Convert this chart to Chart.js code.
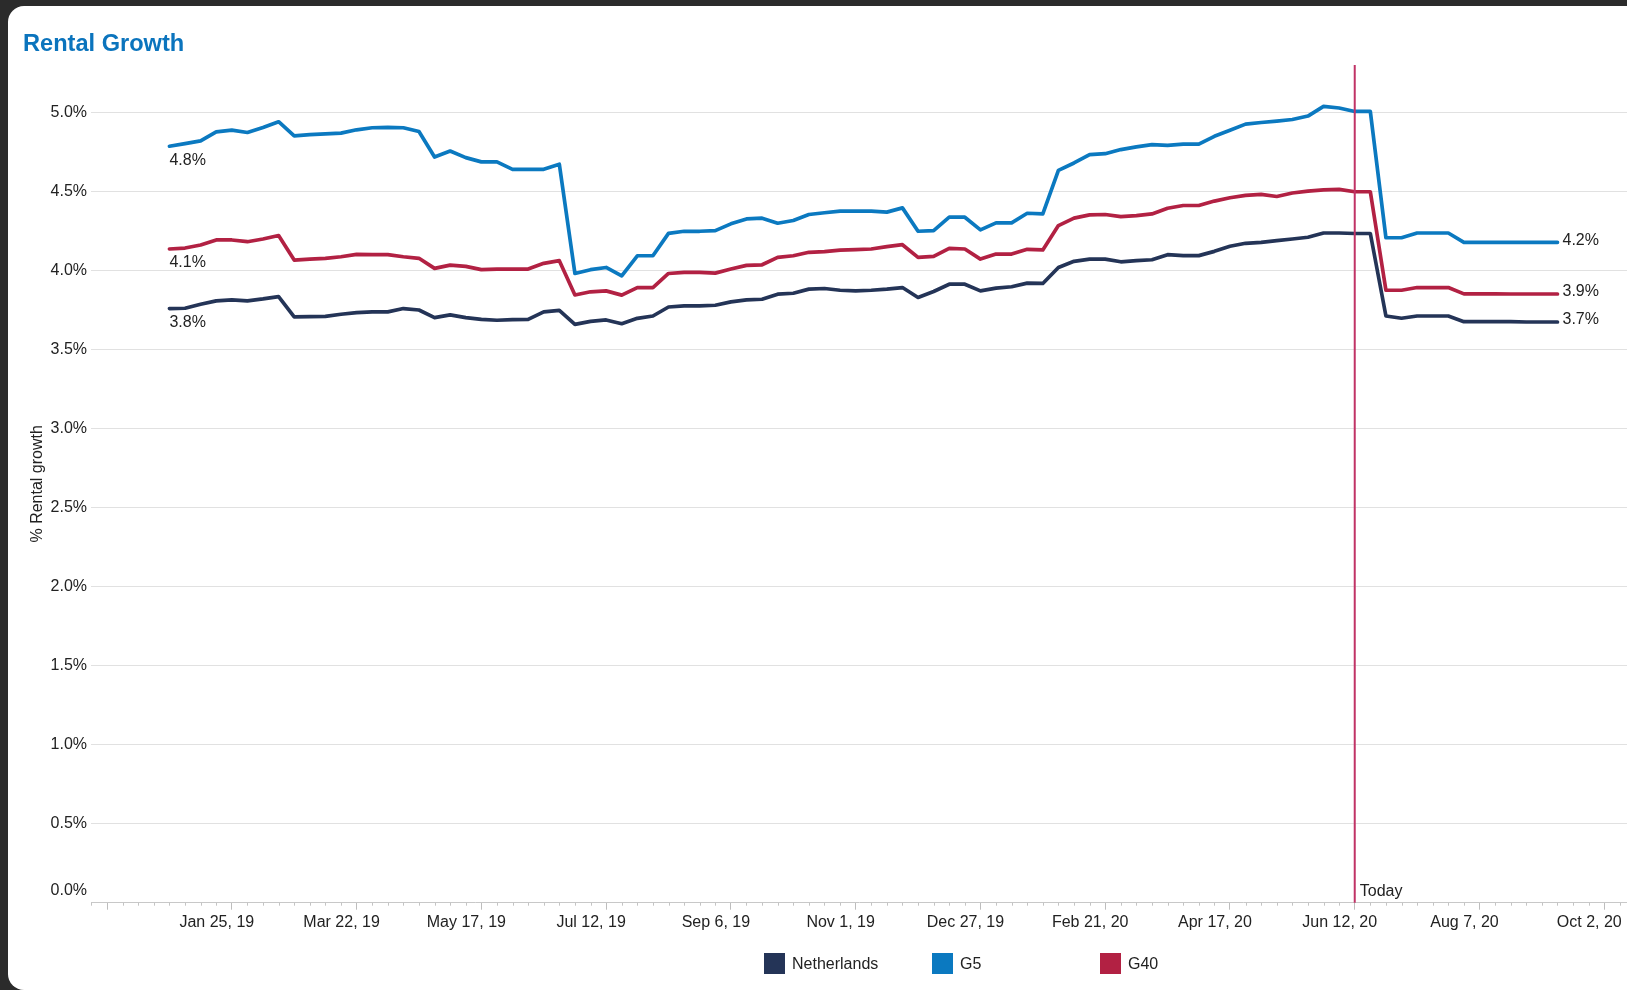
<!DOCTYPE html>
<html>
<head>
<meta charset="utf-8">
<title>Rental Growth</title>
<script src="https://cdn.jsdelivr.net/npm/chart.js@4.4.1/dist/chart.umd.min.js"></script>
<style>
    html, body { margin: 0; padding: 0; }
    body {
        width: 1627px; height: 990px; overflow: hidden;
        background: #2b2b2b;
        font-family: "Liberation Sans", Arial, sans-serif;
    }
    .card {
        position: absolute; left: 8px; top: 6px;
        width: 1619px; height: 984px;
        background: #fff;
        border-radius: 16px 0 0 16px;
        overflow: hidden;
    }
    .card h2 {
        position: absolute; left: 15px; top: 26px; margin: 0;
        font-size: 23.6px; line-height: 23px; font-weight: bold;
        color: #0b74bd;
    }
    .chart-box { position: absolute; left: 0; top: 0; width: 1619px; height: 984px; }
    .legend { position: absolute; left: 756px; top: 947px; display: flex; }
    .legend-item { width: 168px; height: 21px; display: flex; align-items: center; font-size: 16px; color: #222; }
    .legend-item .box { width: 21px; height: 21px; margin-right: 7px; }
</style>
</head>
<body>
<div class="card">
    <div class="chart-box"><canvas id="chartRental"></canvas></div>
    <h2>Rental Growth</h2>
    <div class="legend" id="legendRental"></div>
</div>

<script>
// Weekly readings (Fridays), day 0 = Dec 28, 2018
const weekDays = Array.from({ length: 90 }, (_, i) => i * 7);

const netherlands = [
    3.759, 3.761, 3.786, 3.808, 3.814, 3.808, 3.820, 3.835, 3.706, 3.708,
    3.710, 3.723, 3.733, 3.738, 3.738, 3.759, 3.750, 3.702, 3.719, 3.702,
    3.691, 3.685, 3.689, 3.691, 3.738, 3.748, 3.659, 3.678, 3.687, 3.663,
    3.697, 3.712, 3.769, 3.776, 3.776, 3.780, 3.801, 3.814, 3.818, 3.850,
    3.856, 3.882, 3.886, 3.875, 3.871, 3.875, 3.882, 3.892, 3.829, 3.867,
    3.913, 3.913, 3.871, 3.888, 3.897, 3.920, 3.918, 4.019, 4.058, 4.072,
    4.072, 4.055, 4.062, 4.068, 4.100, 4.094, 4.094, 4.121, 4.153, 4.172,
    4.178, 4.189, 4.199, 4.210, 4.237, 4.237, 4.234, 4.234, 3.712, 3.698,
    3.712, 3.712, 3.712, 3.676, 3.676, 3.676, 3.676, 3.674, 3.674, 3.674
];

const g5 = [
    4.786, 4.803, 4.820, 4.877, 4.888, 4.873, 4.905, 4.941, 4.852, 4.860,
    4.864, 4.869, 4.890, 4.903, 4.905, 4.903, 4.879, 4.718, 4.756, 4.714,
    4.687, 4.687, 4.640, 4.640, 4.640, 4.672, 3.981, 4.005, 4.019, 3.966,
    4.093, 4.093, 4.235, 4.248, 4.248, 4.252, 4.295, 4.326, 4.331, 4.299,
    4.316, 4.354, 4.365, 4.375, 4.375, 4.375, 4.369, 4.396, 4.248, 4.252,
    4.337, 4.337, 4.257, 4.301, 4.301, 4.362, 4.358, 4.633, 4.680, 4.733,
    4.739, 4.765, 4.782, 4.796, 4.792, 4.799, 4.799, 4.849, 4.887, 4.926,
    4.936, 4.945, 4.955, 4.977, 5.038, 5.028, 5.006, 5.006, 4.207, 4.207,
    4.237, 4.237, 4.237, 4.178, 4.178, 4.178, 4.178, 4.178, 4.178, 4.178
];

const g40 = [
    4.136, 4.142, 4.161, 4.193, 4.193, 4.182, 4.199, 4.221, 4.066, 4.072,
    4.077, 4.087, 4.102, 4.100, 4.100, 4.087, 4.077, 4.013, 4.034, 4.026,
    4.005, 4.009, 4.009, 4.009, 4.045, 4.062, 3.845, 3.865, 3.871, 3.844,
    3.892, 3.892, 3.981, 3.988, 3.988, 3.983, 4.009, 4.032, 4.036, 4.083,
    4.093, 4.115, 4.119, 4.129, 4.132, 4.136, 4.151, 4.163, 4.083, 4.089,
    4.140, 4.136, 4.072, 4.104, 4.104, 4.134, 4.130, 4.284, 4.331, 4.352,
    4.354, 4.341, 4.347, 4.358, 4.394, 4.411, 4.411, 4.439, 4.460, 4.475,
    4.481, 4.468, 4.490, 4.502, 4.510, 4.513, 4.498, 4.498, 3.875, 3.875,
    3.892, 3.892, 3.892, 3.852, 3.852, 3.852, 3.851, 3.851, 3.851, 3.851
];

const seriesNames = ['Netherlands', 'G5', 'G40'];
const seriesColors = ['#243457', '#0b79c0', '#b22143'];

// Major ticks every 8 weeks; the first one carries no label
const tickDays = [-28, 28, 84, 140, 196, 252, 308, 364, 420, 476, 532, 588, 644];
const tickLabels = ['', 'Jan 25, 19', 'Mar 22, 19', 'May 17, 19', 'Jul 12, 19', 'Sep 6, 19',
    'Nov 1, 19', 'Dec 27, 19', 'Feb 21, 20', 'Apr 17, 20', 'Jun 12, 20', 'Aug 7, 20', 'Oct 2, 20'];
const yTicks = [0, 0.5, 1, 1.5, 2, 2.5, 3, 3.5, 4, 4.5, 5];

const todayDay = 532;
const FONT = '"Liberation Sans", Arial, sans-serif';
const TEXT = '#222';

const fmtPct = v => v.toFixed(1) + '%';

// Today marker + first/last value labels
const annotacoes = {
    id: 'annotacoes',
    afterDatasetsDraw(chart) {
        const { ctx, chartArea, scales: { x } } = chart;
        const tx = x.getPixelForValue(todayDay);

        ctx.save();
        ctx.strokeStyle = '#c03366';
        ctx.lineWidth = 2;
        ctx.beginPath();
        ctx.moveTo(tx, chartArea.top);
        ctx.lineTo(tx, chartArea.bottom);
        ctx.stroke();

        ctx.font = '16px ' + FONT;
        ctx.fillStyle = TEXT;
        ctx.textAlign = 'left';
        ctx.textBaseline = 'alphabetic';
        ctx.fillText('Today', tx + 5, chartArea.bottom - 6.5);

        chart.data.datasets.forEach((ds, i) => {
            const pts = chart.getDatasetMeta(i).data;
            const first = pts[0];
            const last = pts[pts.length - 1];
            ctx.textBaseline = 'top';
            ctx.fillText(fmtPct(ds.data[0].y), first.x, first.y + 6);
            ctx.textBaseline = 'middle';
            ctx.fillText(fmtPct(ds.data[ds.data.length - 1].y), last.x + 5, last.y - 2);
        });
        ctx.restore();
    }
};

// Small weekly ticks under the dashed axis line, and the 0% label lifted off the axis
const axisExtras = {
    id: 'axisExtras',
    afterDraw(chart) {
        const { ctx, chartArea, scales: { x, y } } = chart;
        ctx.save();
        ctx.strokeStyle = '#c4c4c4';
        ctx.lineWidth = 1;
        ctx.beginPath();
        for (let d = -35; d <= x.max; d += 7) {
            if (tickDays.includes(d)) continue;
            const px = Math.round(x.getPixelForValue(d)) + 0.5;
            ctx.moveTo(px, chartArea.bottom);
            ctx.lineTo(px, chartArea.bottom + 3);
        }
        ctx.stroke();

        ctx.font = '16px ' + FONT;
        ctx.fillStyle = TEXT;
        ctx.textAlign = 'right';
        ctx.textBaseline = 'middle';
        ctx.fillText(fmtPct(0), y.right - 4, y.getPixelForValue(0) - 12.5);
        ctx.restore();
    }
};

function renderLegend() {
    const el = document.getElementById('legendRental');
    seriesNames.forEach((nome, i) => {
        const item = document.createElement('div');
        item.className = 'legend-item';
        item.innerHTML = `<span class="box" style="background:${seriesColors[i]}"></span><span>${nome}</span>`;
        el.appendChild(item);
    });
}

function renderChart() {
    const ctx = document.getElementById('chartRental').getContext('2d');
    const serieData = [netherlands, g5, g40];

    new Chart(ctx, {
        type: 'line',
        data: {
            datasets: serieData.map((vals, i) => ({
                label: seriesNames[i],
                data: vals.map((v, j) => ({ x: weekDays[j], y: v })),
                borderColor: seriesColors[i],
                backgroundColor: seriesColors[i],
                borderWidth: 3.7,
                borderJoinStyle: 'round',
                borderCapStyle: 'round',
                pointRadius: 0,
                tension: 0,
                fill: false
            }))
        },
        options: {
            responsive: true,
            maintainAspectRatio: false,
            animation: false,
            layout: { padding: { top: 59, left: 0, right: 0, bottom: 0 } },
            plugins: {
                legend: { display: false },
                tooltip: { enabled: false }
            },
            scales: {
                x: {
                    type: 'linear',
                    min: -35.2,
                    max: 654.2,
                    afterBuildTicks: scale => { scale.ticks = tickDays.map(v => ({ value: v })); },
                    afterFit: scale => {
                        scale.height = 87.3;
                        scale.paddingLeft = 0;
                        scale.paddingRight = 0;
                    },
                    border: { display: true, color: '#c8c8c8', width: 1, dash: [2, 2] },
                    grid: {
                        drawOnChartArea: false,
                        drawTicks: true,
                        tickLength: 7,
                        tickColor: '#bdbdbd'
                    },
                    ticks: {
                        autoSkip: false,
                        maxRotation: 0,
                        padding: 3,
                        labelOffset: -15,
                        color: TEXT,
                        font: { size: 16, family: FONT },
                        callback: (value, index) => tickLabels[index]
                    }
                },
                y: {
                    min: 0,
                    max: 5.3,
                    afterBuildTicks: scale => { scale.ticks = yTicks.map(v => ({ value: v })); },
                    afterFit: scale => { scale.width = 83; },
                    border: { display: false },
                    grid: {
                        drawTicks: false,
                        color: c => (c.tick && c.tick.value === 0) ? 'rgba(0,0,0,0)' : '#e1e1e1'
                    },
                    ticks: {
                        padding: 4,
                        color: TEXT,
                        font: { size: 16, family: FONT },
                        // 0% is drawn by axisExtras, above the axis line
                        callback: v => v === 0 ? '' : fmtPct(v)
                    },
                    title: {
                        display: true,
                        text: '% Rental growth',
                        color: TEXT,
                        font: { size: 16, family: FONT },
                        padding: { top: 20, bottom: 0 }
                    }
                }
            }
        },
        plugins: [annotacoes, axisExtras]
    });
}

renderLegend();
renderChart();
</script>
</body>
</html>
